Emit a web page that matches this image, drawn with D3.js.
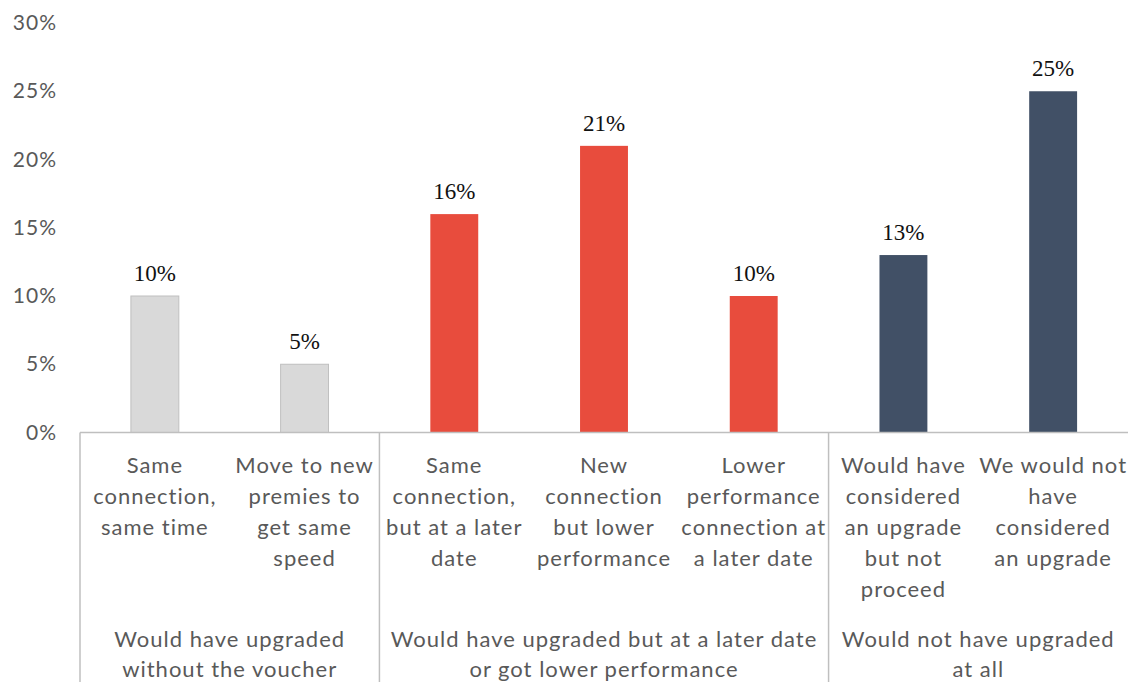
<!DOCTYPE html>
<html>
<head>
<meta charset="utf-8">
<script src="https://cdn.jsdelivr.net/npm/d3@7"></script>
<style>
  html, body { margin: 0; padding: 0; background: #ffffff; }
  svg { display: block; }
</style>
</head>
<body>
<svg id="chart" width="1128" height="682"></svg>
<script>
// Answers grouped into three outcome groups
const categories = [
  ["Same", "connection,", "same time"],
  ["Move to new", "premies to", "get same", "speed"],
  ["Same", "connection,", "but at a later", "date"],
  ["New", "connection", "but lower", "performance"],
  ["Lower", "performance", "connection at", "a later date"],
  ["Would have", "considered", "an upgrade", "but not", "proceed"],
  ["We would not", "have", "considered", "an upgrade"]
];
const values = [10, 5, 16, 21, 10, 13, 25];
const groupOf = [0, 0, 1, 1, 1, 2, 2];
const groupLabels = [
  ["Would have upgraded", "without the voucher"],
  ["Would have upgraded but at a later date", "or got lower performance"],
  ["Would not have upgraded", "at all"]
];
const groupSizes = [2, 3, 2];
const groupColors = ["#d9d9d9", "#e84c3d", "#415066"];
const yTicks = [0, 5, 10, 15, 20, 25, 30];

const svg = d3.select("#chart");
const plotLeft = 80, plotRight = 1128, plotTop = 23, plotBottom = 432.5;

const ids = categories.map((c, i) => i);
const x = d3.scaleBand().domain(ids).range([plotLeft, plotRight])
  .paddingInner(0.68).paddingOuter(0.34);
const y = d3.scaleLinear().domain([0, 30]).range([plotBottom, plotTop]);

const labelFont = "Lato, 'Open Sans', sans-serif";

// Y axis tick labels
const yAxis = d3.axisLeft(y).tickValues(yTicks).tickFormat(d => d + "%").tickSize(0).tickPadding(0);
const yg = svg.append("g").attr("transform", "translate(57,0)").call(yAxis);
yg.select(".domain").remove();
yg.selectAll("text")
  .attr("fill", "#595959")
  .attr("font-family", labelFont)
  .attr("font-size", 21)
  .attr("letter-spacing", 1);

// Bars
svg.append("g").selectAll("rect").data(values).join("rect")
  .attr("x", (d, i) => x(i))
  .attr("y", d => y(d))
  .attr("width", x.bandwidth())
  .attr("height", d => y(0) - y(d))
  .attr("fill", (d, i) => groupColors[groupOf[i]])
  .attr("stroke", (d, i) => groupOf[i] === 0 ? "#bfbfbf" : "none")
  .attr("stroke-width", 1);

// Value labels
svg.append("g").selectAll("text").data(values).join("text")
  .attr("x", (d, i) => x(i) + x.bandwidth() / 2)
  .attr("y", d => y(d) - 15)
  .attr("text-anchor", "middle")
  .attr("font-family", "'Liberation Serif', 'DejaVu Serif', serif")
  .attr("font-size", 23)
  .attr("fill", "#111")
  .text(d => d + "%");

// Baseline and group separators
const lineColor = "#bfbfbf";
svg.append("line")
  .attr("x1", plotLeft).attr("x2", plotRight)
  .attr("y1", y(0)).attr("y2", y(0))
  .attr("stroke", lineColor).attr("stroke-width", 1.5);

const bounds = [0];
groupSizes.forEach(n => bounds.push(bounds[bounds.length - 1] + n));
const step = x.step();
const boundX = bounds.map(b => plotLeft + b * step);
svg.append("g").selectAll("line").data(boundX.slice(0, -1)).join("line")
  .attr("x1", d => d).attr("x2", d => d)
  .attr("y1", y(0)).attr("y2", 682)
  .attr("stroke", lineColor).attr("stroke-width", 1.5);

// Category labels
const catG = svg.append("g")
  .attr("font-family", labelFont)
  .attr("font-size", 22)
  .attr("letter-spacing", 1)
  .attr("fill", "#595959")
  .attr("text-anchor", "middle");
categories.forEach((lines, i) => {
  const cx = x(i) + x.bandwidth() / 2;
  const t = catG.append("text").attr("x", cx).attr("y", 473);
  lines.forEach((ln, k) => {
    t.append("tspan").attr("x", cx).attr("dy", k === 0 ? 0 : 31).text(ln);
  });
});

// Group labels
groupLabels.forEach((lines, g) => {
  const cx = (boundX[g] + boundX[g + 1]) / 2;
  const t = catG.append("text").attr("x", cx).attr("y", 647);
  lines.forEach((ln, k) => {
    t.append("tspan").attr("x", cx).attr("dy", k === 0 ? 0 : 30).text(ln);
  });
});
</script>
</body>
</html>
